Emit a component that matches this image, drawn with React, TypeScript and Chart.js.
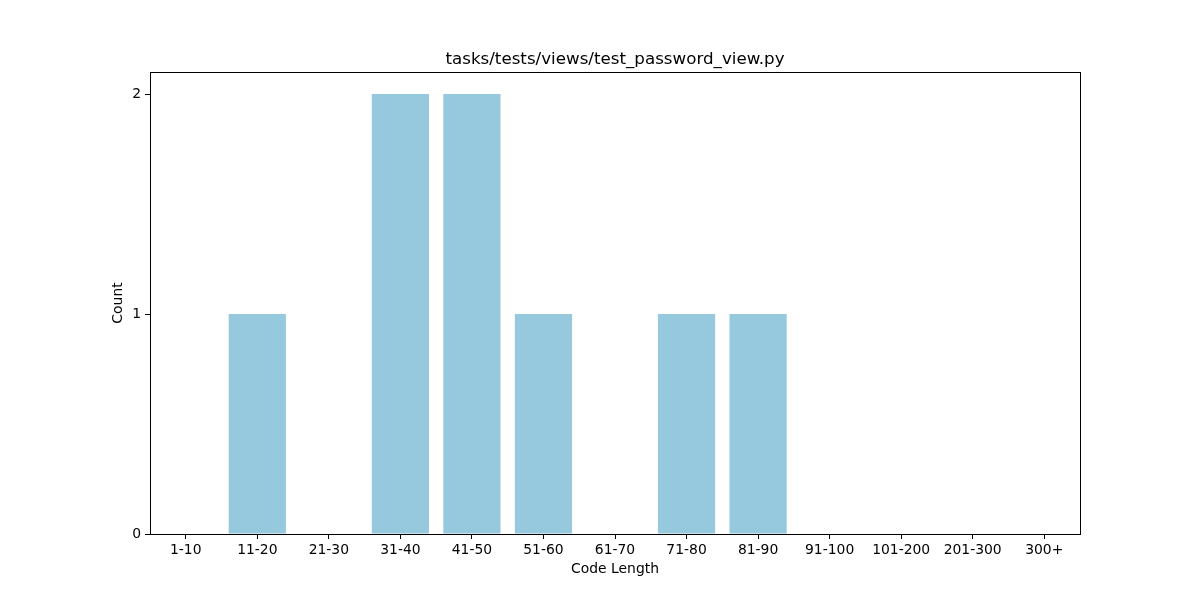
import React, { useEffect, useRef } from "react";
import { Chart, registerables } from "chart.js";

Chart.register(...registerables);

const categories = ["1-10", "11-20", "21-30", "31-40", "41-50", "51-60", "61-70", "71-80", "81-90", "91-100", "101-200", "201-300", "300+"];
const counts = [0, 1, 0, 2, 2, 1, 0, 1, 1, 0, 0, 0, 0];
const yTicks = [0, 1, 2];
const titleText = "tasks/tests/views/test_password_view.py";
const xLabel = "Code Length";
const yLabel = "Count";

const FONT = "'DejaVu Sans', sans-serif";

const boxPlugin = {
  id: "boxPlugin",
  afterDraw(chart: any) {
    const { ctx, chartArea } = chart;
    ctx.save();
    ctx.strokeStyle = "#000";
    ctx.lineWidth = 1;
    const l = Math.round(chartArea.left) + 0.5;
    const t = Math.round(chartArea.top) + 0.5;
    const r = Math.round(chartArea.right) + 0.5;
    const b = Math.round(chartArea.bottom) + 0.5;
    ctx.strokeRect(l, t, r - l, b - t);
    // title centred over plot area
    ctx.fillStyle = "#000";
    ctx.font = `16.7px ${FONT}`;
    ctx.textAlign = "center";
    ctx.textBaseline = "middle";
    ctx.fillText(titleText, (chartArea.left + chartArea.right) / 2, 59.5);
    ctx.restore();
  },
};

export default function App() {
  const ref = useRef<HTMLCanvasElement>(null);
  useEffect(() => {
    if (!ref.current) return;
    Chart.defaults.color = "#000";
    const chart = new Chart(ref.current, {
      type: "bar",
      data: {
        labels: categories,
        datasets: [
          {
            data: counts,
            backgroundColor: "#96c9dd",
            borderWidth: 0,
            categoryPercentage: 1,
            barPercentage: 0.8,
          },
        ],
      },
      options: {
        responsive: false,
        animation: false,
        layout: { padding: { left: 0, right: 120, top: 72, bottom: 0 } },
        plugins: {
          legend: { display: false },
          tooltip: { enabled: false },
          title: { display: false },
        },
        scales: {
          x: {
            offset: true,
            border: { display: false },
            grid: {
              offset: false,
              drawOnChartArea: false,
              drawTicks: true,
              tickLength: 5,
              color: "#000",
            },
            ticks: {
              color: "#000",
              font: { family: FONT, size: 13.9 },
              padding: 3,
              maxRotation: 0,
              autoSkip: false,
            },
            title: {
              display: true,
              text: xLabel,
              color: "#000",
              font: { family: FONT, size: 13.9, lineHeight: 1.2 },
              padding: { top: 0, bottom: 22.7 },
            },
            afterFit(scale: any) {
              scale.height = 66;
            },
          },
          y: {
            min: 0,
            max: 2.1,
            border: { display: false },
            grid: {
              drawOnChartArea: false,
              drawTicks: true,
              tickLength: 5,
              color: "#000",
            },
            afterBuildTicks(scale: any) {
              scale.ticks = yTicks.map((v) => ({ value: v }));
            },
            ticks: {
              color: "#000",
              font: { family: FONT, size: 13.9 },
              padding: 4,
            },
            title: {
              display: true,
              text: yLabel,
              color: "#000",
              font: { family: FONT, size: 13.9, lineHeight: 1.2 },
              padding: { top: 109.7, bottom: 0 },
            },
            afterFit(scale: any) {
              scale.width = 150;
            },
          },
        },
      },
      plugins: [boxPlugin],
    });
    return () => chart.destroy();
  }, []);
  return (
    <div style={{ position: "fixed", left: 0, top: 0, width: 1200, height: 600, background: "#fff" }}>
      <canvas ref={ref} width={1200} height={600} />
    </div>
  );
}
